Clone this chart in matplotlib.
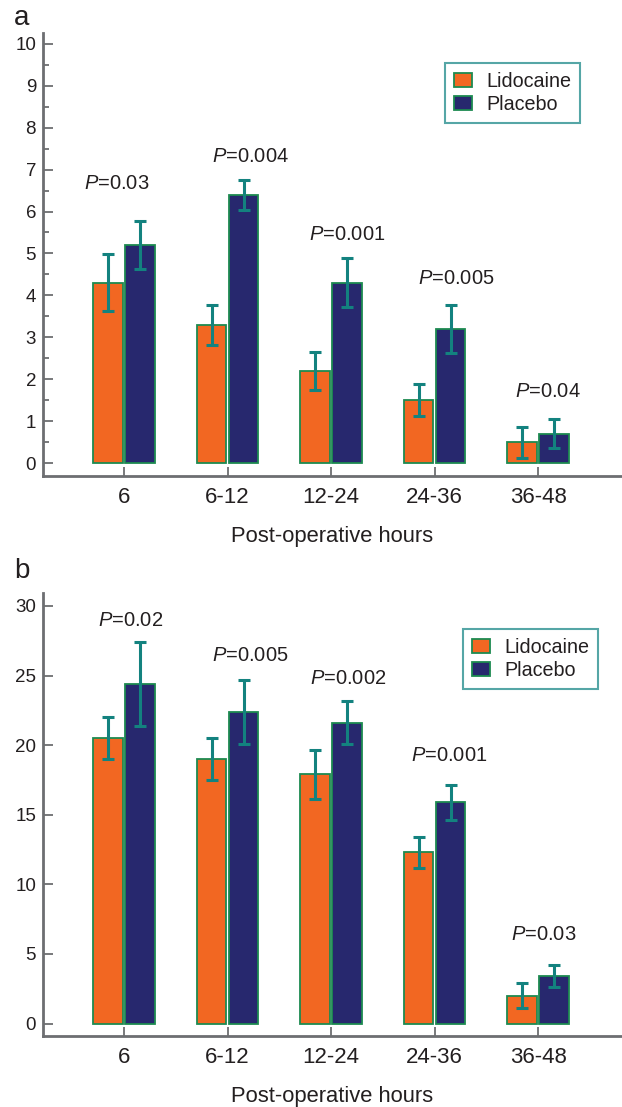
import matplotlib
matplotlib.use("Agg")
import matplotlib.pyplot as plt
import numpy as np
from matplotlib.ticker import MultipleLocator

plt.rcParams['font.family'] = ['Liberation Sans', 'DejaVu Sans']
plt.rcParams['mathtext.fontset'] = 'custom'
plt.rcParams['mathtext.it'] = 'Liberation Sans:italic'
plt.rcParams['mathtext.rm'] = 'Liberation Sans'

# ---------------- data ----------------
groups = ['6', '6-12', '12-24', '24-36', '36-48']
series = ['Lidocaine', 'Placebo']

a_lido = [4.3, 3.3, 2.2, 1.5, 0.5]
a_lido_err = [0.68, 0.48, 0.45, 0.38, 0.37]
a_plac = [5.2, 6.4, 4.3, 3.2, 0.7]
a_plac_err = [0.57, 0.36, 0.58, 0.57, 0.35]
a_p = ['0.03', '0.004', '0.001', '0.005', '0.04']

b_lido = [20.5, 19.0, 17.9, 12.3, 2.0]
b_lido_err = [1.5, 1.5, 1.75, 1.1, 0.9]
b_plac = [24.4, 22.4, 21.6, 15.9, 3.4]
b_plac_err = [3.0, 2.3, 1.55, 1.27, 0.77]
b_p = ['0.02', '0.005', '0.002', '0.001', '0.03']

xlabel = 'Post-operative hours'

# ---------------- style / layout ----------------
W, H = 622, 1107
ORANGE = '#f26722'
NAVY = '#27286e'
EDGE = '#1d8a50'
ERR = '#13827f'
LEGEND_EDGE = '#2a9090'
AXCOL = '#6d6e71'
TXT = '#231f20'

# annotation placement (x offset from group centre, baseline y)
a_p_pos = [(-0.07, 6.53), (0.22, 7.19), (0.16, 5.33), (0.21, 4.27), (0.09, 1.57)]
b_p_pos = [(0.06, 28.56), (0.22, 26.04), (0.17, 24.39), (0.14, 18.84), (0.055, 6.03)]

fig = plt.figure(figsize=(W / 100, H / 100), dpi=100)


def px_axes(left, top, right, bottom):
    return fig.add_axes([left / W, 1 - bottom / H, (right - left) / W, (bottom - top) / H])


def draw_panel(ax, lido, lido_err, plac, plac_err, pvals, ppos, ylim, major, minor,
               legend_xy):
    x = np.arange(len(groups))
    bw = 0.285
    off = 0.155
    ax.bar(x - off, lido, bw, color=ORANGE, edgecolor=EDGE, linewidth=1.3,
           label=series[0], zorder=2)
    ax.bar(x + off, plac, bw, color=NAVY, edgecolor=EDGE, linewidth=1.3,
           label=series[1], zorder=2)
    ekw = dict(fmt='none', ecolor=ERR, elinewidth=2.2, capsize=4.0, capthick=2.2, zorder=3)
    ax.errorbar(x - off, lido, yerr=lido_err, **ekw)
    ax.errorbar(x + off, plac, yerr=plac_err, **ekw)

    for i, (p, (dx, yb)) in enumerate(zip(pvals, ppos)):
        ax.text(i + dx, yb, r'$\mathit{P}$=' + p, ha='center', va='baseline',
                fontsize=14.5, color=TXT)

    ax.set_xlim(-0.783, 4.81)
    ax.set_ylim(*ylim)
    ax.set_xticks(x)
    ax.set_xticklabels(groups)
    ax.yaxis.set_major_locator(MultipleLocator(major))
    if minor:
        ax.yaxis.set_minor_locator(MultipleLocator(minor))
        ax.tick_params(axis='y', which='minor', direction='in', length=4.5, width=1.3,
                       color=AXCOL)
    ax.tick_params(axis='y', which='major', direction='in', length=7.5, width=1.3,
                   color=AXCOL, labelsize=13.5, labelcolor=TXT, pad=5.0)
    ax.tick_params(axis='x', which='major', direction='in', length=6.5, width=1.3,
                   color=AXCOL, labelsize=16, labelcolor=TXT, pad=8.0)
    for s in ['top', 'right']:
        ax.spines[s].set_visible(False)
    for s in ['left', 'bottom']:
        ax.spines[s].set_color(AXCOL)
        ax.spines[s].set_linewidth(2.0)
    ax.set_xlabel(xlabel, fontsize=15.8, color=TXT, labelpad=13)

    leg = ax.legend(loc='upper left', bbox_to_anchor=(legend_xy[0] / W, 1 - legend_xy[1] / H),
                    bbox_transform=fig.transFigure, borderaxespad=0, fancybox=False,
                    frameon=True, fontsize=14.2, handlelength=0.9, handleheight=0.75,
                    handletextpad=0.75, labelspacing=0.2, borderpad=0.45)
    fr = leg.get_frame()
    fr.set_edgecolor(LEGEND_EDGE)
    fr.set_linewidth(1.5)
    for t in leg.get_texts():
        t.set_color(TXT)


ax_a = px_axes(43, 33, 622, 476)
draw_panel(ax_a, a_lido, a_lido_err, a_plac, a_plac_err, a_p, a_p_pos,
           (-0.31, 10.26), 1, 0.5, (445, 63))

ax_b = px_axes(43, 593, 622, 1035.5)
draw_panel(ax_b, b_lido, b_lido_err, b_plac, b_plac_err, b_p, b_p_pos,
           (-0.86, 30.93), 5, None, (463, 629))

fig.text(14 / W, 1 - 25 / H, 'a', fontsize=20, color=TXT, va='baseline')
fig.text(14 / W, 1 - 578 / H, 'b', fontsize=20, color=TXT, va='baseline')

fig.savefig('out.png', dpi=100)
